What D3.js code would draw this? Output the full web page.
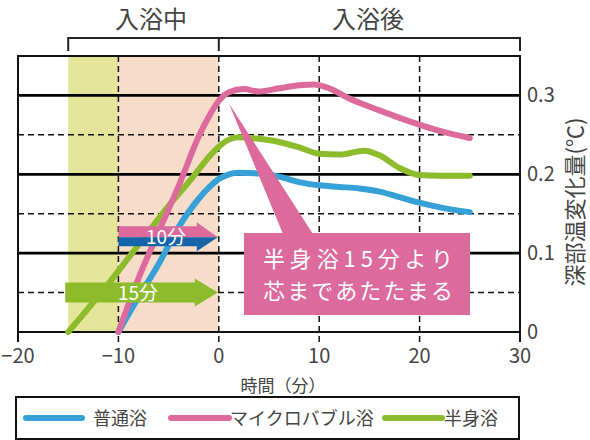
<!DOCTYPE html>
<html><head><meta charset="utf-8">
<script src="https://cdn.jsdelivr.net/npm/d3@7"></script>
<style>
html,body{margin:0;padding:0;background:#fff;}
text{font-family:"Noto Sans CJK JP","Noto Sans",sans-serif;}
</style></head>
<body><svg id="c" width="590" height="440"></svg>
<script>
// ---- data ----
const seriesNames = ["普通浴", "マイクロバブル浴", "半身浴"];
const seriesColors = ["#36a1d6", "#dc6a9c", "#8cbb2c"];
const normalTime = [-10,-8,-6,-4,-2,-1,0,1,2,4,6,8,10,12,14,16,18,20,22,25];
const normalVal  = [0,0.044,0.086,0.133,0.169,0.183,0.194,0.2,0.202,0.201,0.197,0.19,0.186,0.184,0.182,0.178,0.171,0.164,0.158,0.152];
const microTime = [-10,-8,-6,-4,-2,-1,0,1,2.5,4,6,8,9.5,11,13,16,19,22,25];
const microVal  = [0,0.068,0.127,0.185,0.248,0.273,0.293,0.304,0.308,0.305,0.309,0.313,0.314,0.309,0.296,0.281,0.267,0.255,0.246];
const halfTime = [-15,-13,-11,-9,-7,-5,-3,-2,-1,0,1,2,4,6,8,10,12,14.5,16,18,20,22,25];
const halfVal  = [0,0.03,0.061,0.094,0.127,0.16,0.19,0.206,0.222,0.235,0.244,0.247,0.245,0.241,0.234,0.226,0.225,0.23,0.224,0.208,0.199,0.198,0.198];
const xTicks = [-20,-10,0,10,20,30];
const xTickLabels = ["−20","−10","0","10","20","30"];
const yTicks = [0,0.1,0.2,0.3];
const yTickLabels = ["0","0.1","0.2","0.3"];
const yDashed = [0.05,0.15,0.25];
const xDashed = [-10,0,10,20];
const phaseLabels = ["入浴中","入浴後"];
const phaseBounds = [-15,0,30];
const bandRanges = [[-15,-10],[-10,0]];
const bandColors = ["#e4e599","#f7dcca"];
const arrowLabels = ["10分","15分"];
const arrowStarts = [-10,-15];
const arrowYs = [0.12,0.05];
const calloutLines = ["半身浴15分より","芯まであたたまる"];
const xTitle = "時間（分）";
const yTitle = "深部温変化量(℃)";

// ---- layout ----
const svg = d3.select("#c");
const L=18, R=520, T=56, B=332;
const x = d3.scaleLinear().domain([-20,30]).range([L,R]);
const y = d3.scaleLinear().domain([0,0.35]).range([B,T]);
const txt = "#444";

// bands
svg.selectAll("rect.band").data(bandRanges).join("rect")
  .attr("x",d=>x(d[0])).attr("width",d=>x(d[1])-x(d[0]))
  .attr("y",T).attr("height",B-T)
  .attr("fill",(d,i)=>bandColors[i]);

// dashed grid
svg.selectAll("line.yd").data(yDashed).join("line")
  .attr("x1",L).attr("x2",R).attr("y1",d=>y(d)).attr("y2",d=>y(d))
  .attr("stroke","#111").attr("stroke-width",1.5).attr("stroke-dasharray","6,4");
svg.selectAll("line.xd").data(xDashed).join("line")
  .attr("x1",d=>x(d)).attr("x2",d=>x(d)).attr("y1",T).attr("y2",B+10)
  .attr("stroke","#111").attr("stroke-width",1.5).attr("stroke-dasharray","6,4");
// solid grid
svg.selectAll("line.ys").data(yTicks.slice(1)).join("line")
  .attr("x1",L).attr("x2",R).attr("y1",d=>y(d)).attr("y2",d=>y(d))
  .attr("stroke","#000").attr("stroke-width",2.8);
// border
svg.append("rect").attr("x",L).attr("y",T).attr("width",R-L).attr("height",B-T)
  .attr("fill","none").attr("stroke","#111").attr("stroke-width",2);
// end ticks
svg.selectAll("line.et").data([-20,30]).join("line")
  .attr("x1",d=>x(d)).attr("x2",d=>x(d)).attr("y1",B).attr("y2",B+10)
  .attr("stroke","#111").attr("stroke-width",2);

// x tick labels
svg.selectAll("text.xt").data(xTicks).join("text")
  .attr("x",d=>x(d)).attr("y",363).attr("text-anchor","middle")
  .attr("font-size",20).attr("fill",txt).text((d,i)=>xTickLabels[i]);
// y tick labels
svg.selectAll("text.yt").data(yTicks).join("text")
  .attr("x",527).attr("y",d=>y(d)+7).attr("font-size",20).attr("fill",txt)
  .text((d,i)=>yTickLabels[i]);
// axis titles
svg.append("text").attr("x",283).attr("y",392).attr("text-anchor","middle")
  .attr("font-size",17).attr("fill",txt).text(xTitle);
svg.append("text").attr("transform","translate(583,202) rotate(-90)")
  .attr("text-anchor","middle").attr("font-size",22).attr("fill",txt).text(yTitle);

// phase bracket
const bY=38, bY2=51;
svg.append("path")
  .attr("d",`M${x(phaseBounds[0])},${bY2}V${bY}H${x(phaseBounds[2])}V${bY2}M${x(phaseBounds[1])},${bY}V${bY2}`)
  .attr("fill","none").attr("stroke","#222").attr("stroke-width",2);
svg.selectAll("text.ph").data(phaseLabels).join("text")
  .attr("x",(d,i)=>i===0?151:368).attr("y",28).attr("text-anchor","middle")
  .attr("font-size",24).attr("fill",txt).text(d=>d);

// curves
const line = d3.line().x(d=>x(d[0])).y(d=>y(d[1])).curve(d3.curveMonotoneX);
const seriesData = [
  d3.zip(normalTime, normalVal),
  d3.zip(microTime, microVal),
  d3.zip(halfTime, halfVal)
];
const drawOrder = [2,0,1];
drawOrder.forEach(i=>{
  svg.append("path").attr("d",line(seriesData[i])).attr("fill","none")
    .attr("stroke",seriesColors[i]).attr("stroke-width",6)
    .attr("stroke-linecap","round").attr("stroke-linejoin","round");
});

// arrows
function arrow(x0,x1,yc,hs,hh,headLen){
  const xh = x1-headLen;
  return `M${x0},${yc-hs}H${xh}V${yc-hh}L${x1},${yc}L${xh},${yc+hh}V${yc+hs}H${x0}Z`;
}
// 10分 arrow (pink top / blue bottom)
{
  const yc = y(arrowYs[0]), x0 = x(arrowStarts[0]), x1 = x(0)-1;
  const xh = x1-21;
  svg.append("path").attr("d",`M${x0},${yc-11}H${xh}V${yc-15}L${x1},${yc}H${x0}Z`).attr("fill","#dc6a9c");
  svg.append("path").attr("d",`M${x0},${yc}H${x1}L${xh},${yc+14}V${yc+9}H${x0}Z`).attr("fill","#1565a8");
  svg.append("text").attr("x",166).attr("y",yc+7).attr("text-anchor","middle")
    .attr("font-size",19).attr("fill","#fff").text(arrowLabels[0]);
}
// 15分 arrow (green)
{
  const yc = y(arrowYs[1]), x0 = x(arrowStarts[1])-3, x1 = x(0)-1;
  svg.append("path").attr("d",arrow(x0,x1,yc,10,14,23)).attr("fill","#8cbb2c");
  svg.append("text").attr("x",138).attr("y",yc+7).attr("text-anchor","middle")
    .attr("font-size",19).attr("fill","#fff").text(arrowLabels[1]);
}

// callout
const cb = {x0:244, y0:233, x1:470, y1:315};
svg.append("path").attr("d",`M${x(1)},${y(0.29)}L${cb.x0+69},${cb.y0+1}L${cb.x0+39},${cb.y0+1}Z`).attr("fill","#dc6a9c");
svg.append("rect").attr("x",cb.x0).attr("y",cb.y0).attr("width",cb.x1-cb.x0).attr("height",cb.y1-cb.y0).attr("fill","#dc6a9c");
svg.selectAll("text.co").data(calloutLines).join("text")
  .attr("x",263).attr("y",(d,i)=>i===0?267:299)
  .attr("font-size",22).attr("fill","#fff")
  .attr("textLength",190).attr("lengthAdjust","spacing").text(d=>d);

// legend
svg.append("rect").attr("x",16).attr("y",397).attr("width",503).attr("height",42)
  .attr("fill","#fff").attr("stroke","#111").attr("stroke-width",2);
const legX = [[26,82,93],[171,229,230],[385,442,444]];
seriesNames.forEach((n,i)=>{
  svg.append("line").attr("x1",legX[i][0]).attr("x2",legX[i][1]).attr("y1",418).attr("y2",418)
    .attr("stroke",seriesColors[i]).attr("stroke-width",6).attr("stroke-linecap","round");
  svg.append("text").attr("x",legX[i][2]).attr("y",425).attr("font-size",18).attr("fill",txt).text(n);
});
</script></body></html>
